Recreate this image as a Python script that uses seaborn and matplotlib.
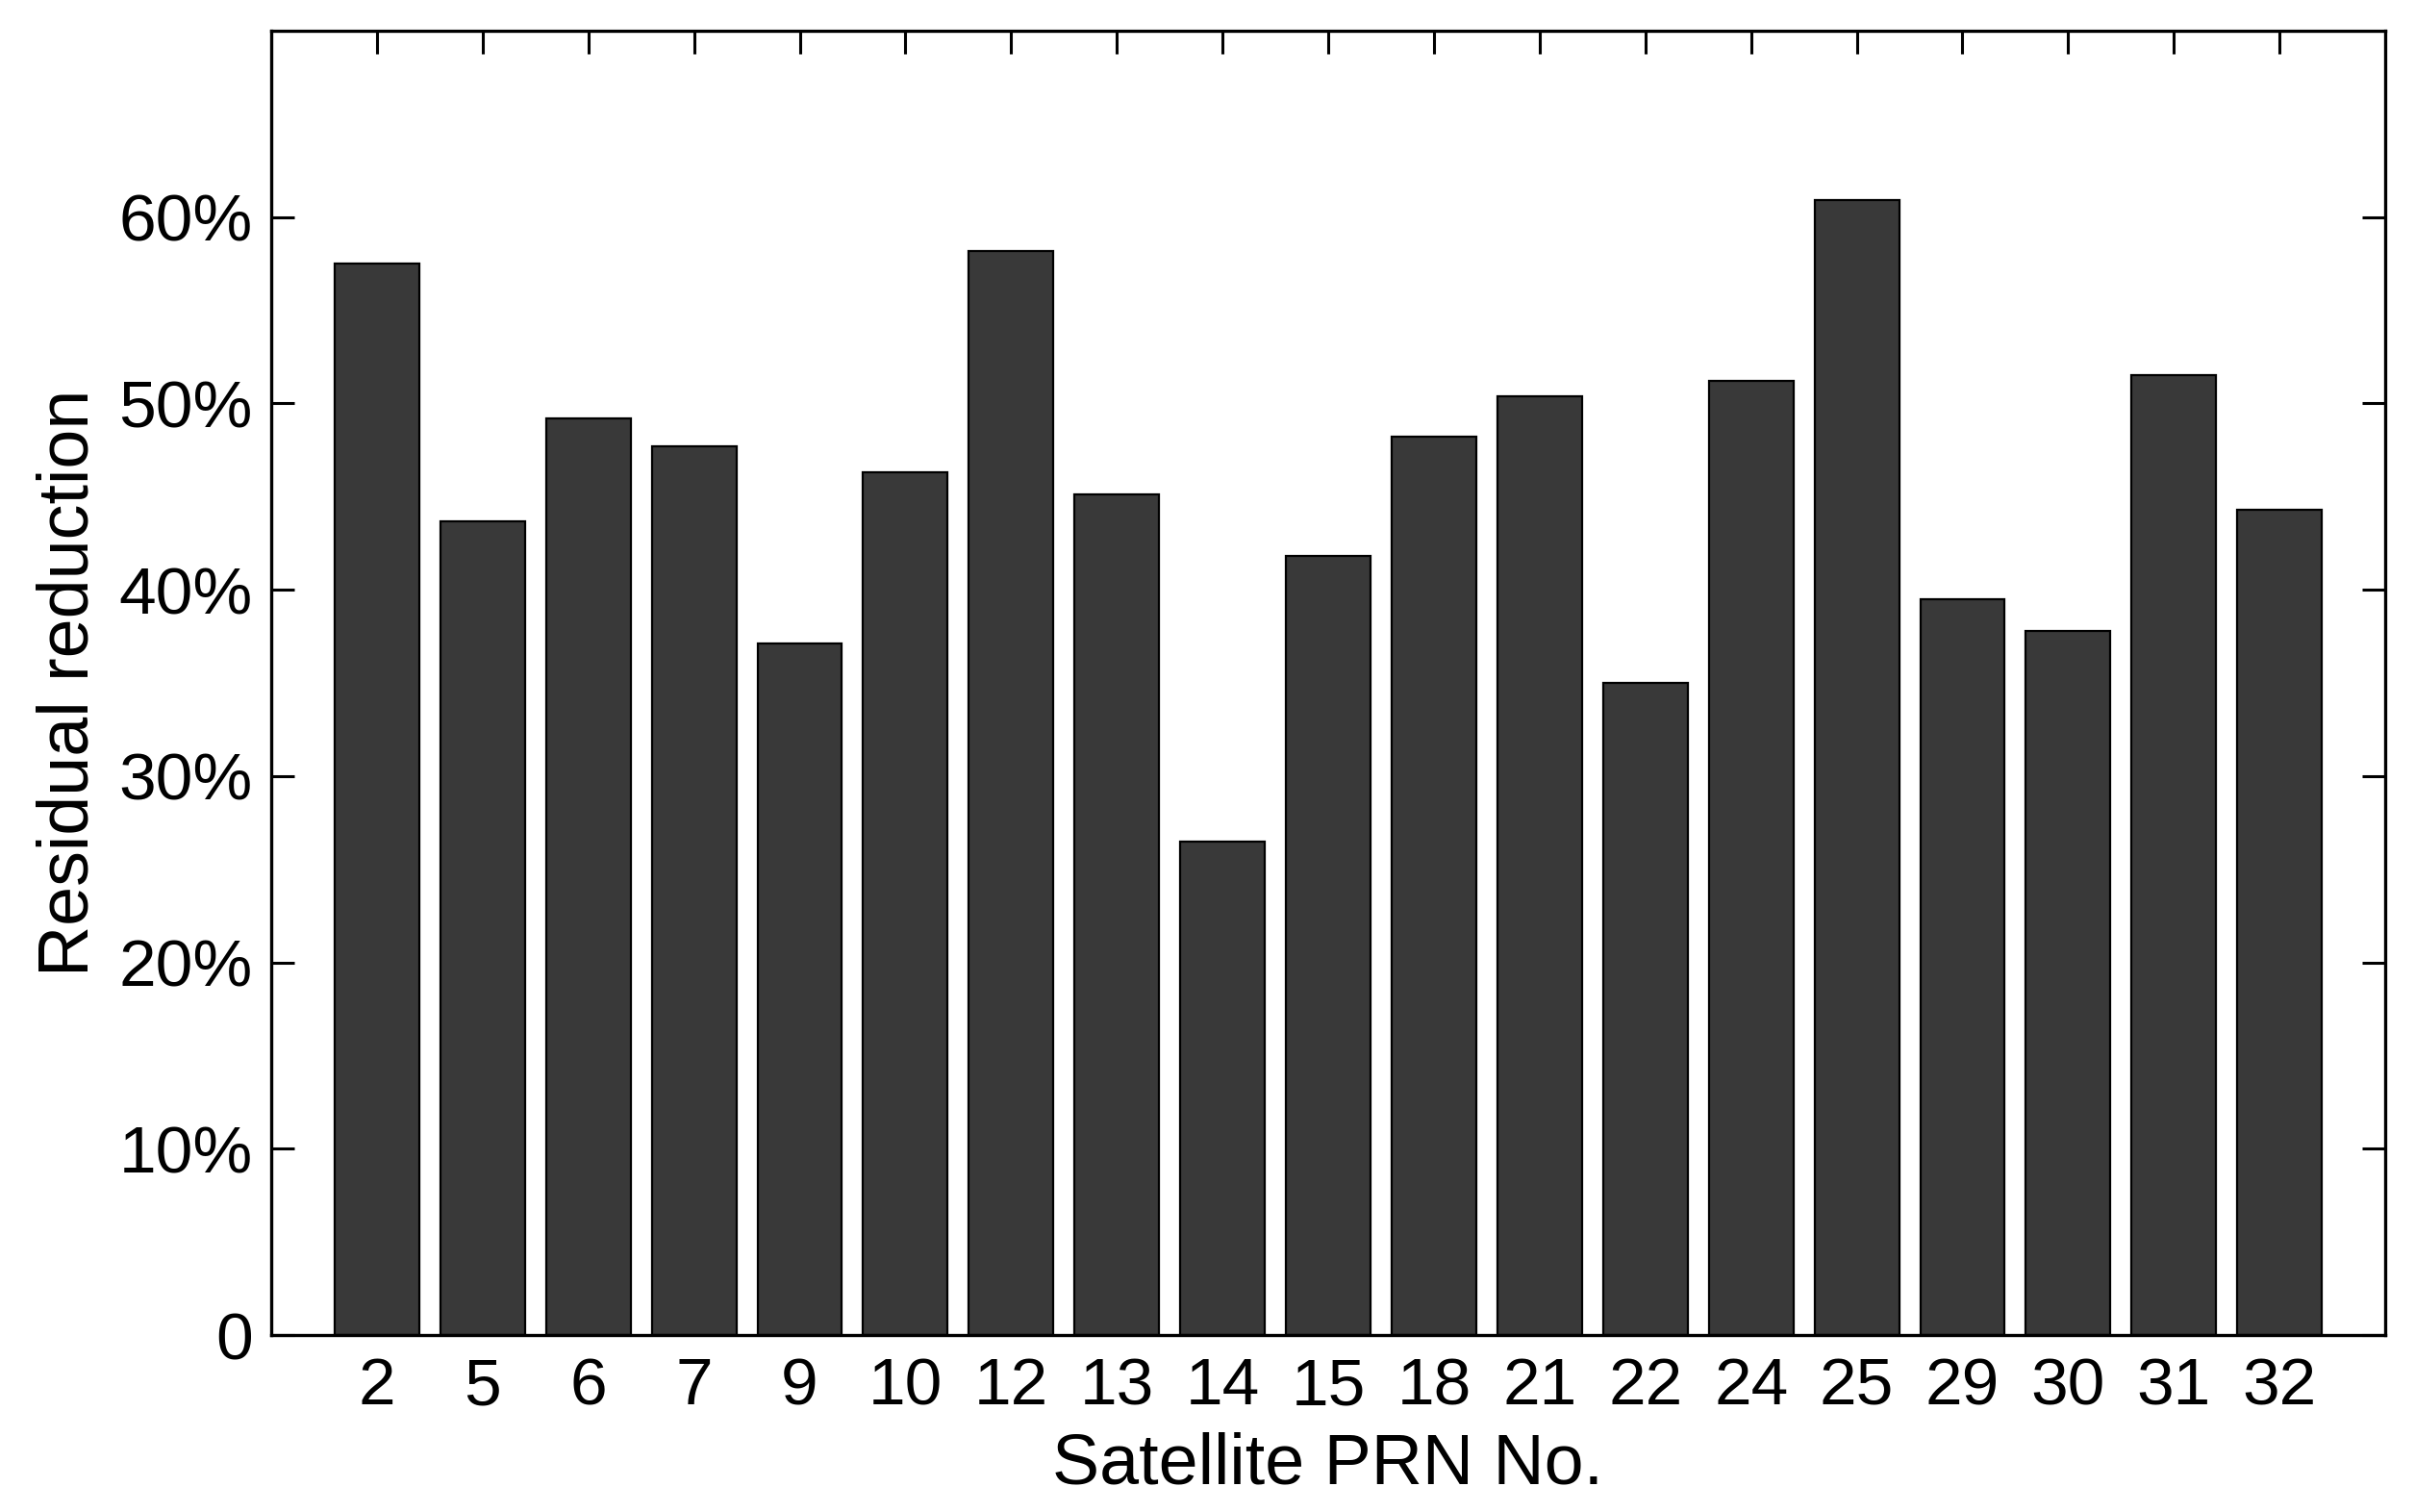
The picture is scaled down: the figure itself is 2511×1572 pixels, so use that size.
import matplotlib
matplotlib.use("Agg")
import matplotlib.pyplot as plt
import seaborn as sns
import pandas as pd
from matplotlib.ticker import FuncFormatter

# data
prn = ['2', '5', '6', '7', '9', '10', '12', '13', '14', '15',
       '18', '21', '22', '24', '25', '29', '30', '31', '32']
reduction = [0.575, 0.437, 0.492, 0.477, 0.371, 0.463, 0.582, 0.451, 0.265, 0.418,
             0.482, 0.504, 0.350, 0.512, 0.609, 0.395, 0.378, 0.515, 0.443]
yticks = [0, 0.1, 0.2, 0.3, 0.4, 0.5, 0.6]

df = pd.DataFrame({'PRN': prn, 'Reduction': reduction})

sns.set_theme(style='ticks')
plt.rcParams['font.family'] = ['Liberation Sans', 'DejaVu Sans']
plt.rcParams['text.color'] = 'black'
plt.rcParams['axes.labelcolor'] = 'black'

fig = plt.figure(figsize=(25.11, 15.72), dpi=100)
ax = fig.add_axes([0.1123, 0.117, 0.8754, 0.8626])

sns.barplot(data=df, x='PRN', y='Reduction', order=prn, color='#393939',
            saturation=1, edgecolor='black', linewidth=1.6, width=0.8, ax=ax)

ax.set_xlim(-1, len(prn))
ax.set_yticks(yticks)
ax.set_ylim(0, 0.7)
ax.yaxis.set_major_formatter(FuncFormatter(lambda v, p: '0' if abs(v) < 1e-9 else f'{v*100:.0f}%'))

# ticks inward on all sides, hidden behind the bars at the bottom
ax.set_axisbelow(True)
ax.tick_params(axis='both', which='major', direction='in', length=17, width=2.2,
               top=True, right=True, labelsize=50, color='black', labelcolor='black')
ax.tick_params(axis='y', pad=14)
ax.tick_params(axis='x', pad=16)

for s in ax.spines.values():
    s.set_visible(True)
    s.set_linewidth(2.4)
    s.set_color('black')

ax.set_xlabel('Satellite PRN No.', fontsize=53, labelpad=10, color='black')
ax.set_ylabel('Residual reduction', fontsize=53, labelpad=12, color='black')

fig.savefig('out.png', dpi=100, facecolor='white')
